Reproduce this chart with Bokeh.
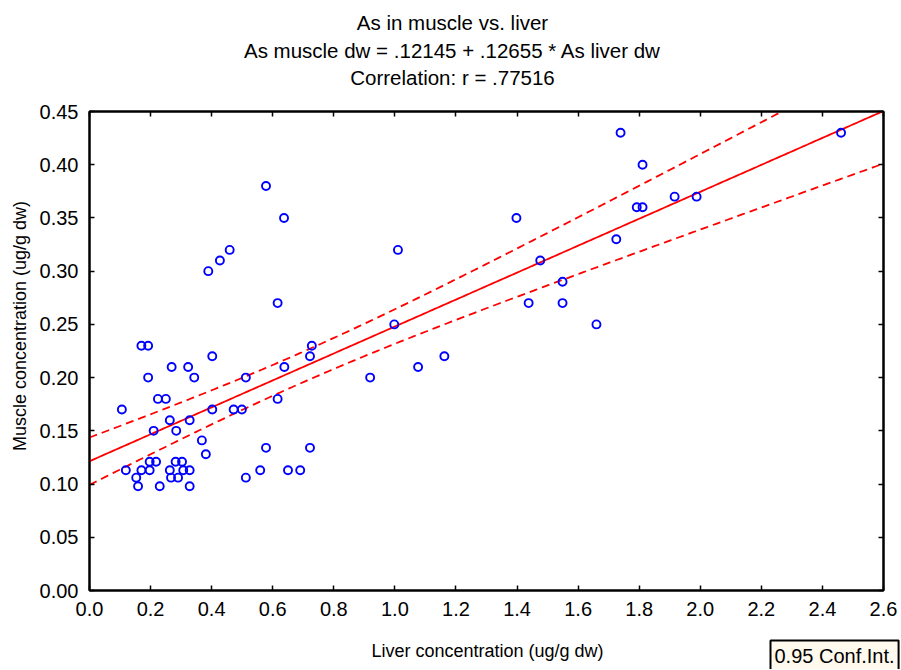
import numpy as np
from bokeh.plotting import figure
from bokeh.layouts import column
from bokeh.models import Range1d, FixedTicker, LinearAxis, Label, Plot
from bokeh.embed import file_html
from bokeh.resources import INLINE

# ---- data ----
liver = [0.170, 0.192, 0.402, 0.269, 0.323, 0.638, 0.728, 0.722, 0.192, 0.343,
         0.512, 0.224, 0.250, 0.616, 0.106, 0.402, 0.472, 0.499, 0.263, 0.328,
         0.210, 0.284, 0.368, 0.381, 0.578, 0.722, 0.197, 0.218, 0.282, 0.303,
         0.119, 0.170, 0.197, 0.263, 0.307, 0.328, 0.559, 0.650, 0.690, 0.153,
         0.267, 0.290, 0.512, 0.159, 0.230, 0.328,
         0.578, 0.637, 0.459, 0.427, 0.389, 0.616,
         1.010, 0.998, 0.919, 1.076, 1.162,
         1.739, 2.461, 1.811, 1.398, 1.792, 1.811, 1.916, 1.988, 1.725, 1.476,
         1.549, 1.438, 1.549, 1.660]
muscle = [0.23, 0.23, 0.22, 0.21, 0.21, 0.21, 0.23, 0.22, 0.20, 0.20,
          0.20, 0.18, 0.18, 0.18, 0.17, 0.17, 0.17, 0.17, 0.16, 0.16,
          0.15, 0.15, 0.141, 0.128, 0.134, 0.134, 0.121, 0.121, 0.121, 0.121,
          0.113, 0.113, 0.113, 0.113, 0.113, 0.113, 0.113, 0.113, 0.113, 0.106,
          0.106, 0.106, 0.106, 0.098, 0.098, 0.098,
          0.38, 0.35, 0.32, 0.31, 0.30, 0.27,
          0.32, 0.25, 0.20, 0.21, 0.22,
          0.43, 0.43, 0.40, 0.35, 0.36, 0.36, 0.37, 0.37, 0.33, 0.31,
          0.29, 0.27, 0.27, 0.25]

title_lines = ["As in muscle vs. liver",
               "As muscle dw = .12145 + .12655 * As liver dw",
               "Correlation: r = .77516"]
x_label = "Liver concentration (ug/g dw)"
y_label = "Muscle concentration (ug/g dw)"
legend_label = "0.95 Conf.Int."

intercept = 0.12145
slope = 0.12655
t_crit = 1.995  # two-sided 95 %, df = n - 2

x_ticks = [0.0, 0.2, 0.4, 0.6, 0.8, 1.0, 1.2, 1.4, 1.6, 1.8, 2.0, 2.2, 2.4, 2.6]
x_tick_labels = ["0.0", "0.2", "0.4", "0.6", "0.8", "1.0", "1.2", "1.4", "1.6",
                 "1.8", "2.0", "2.2", "2.4", "2.6"]
y_ticks = [0.0, 0.05, 0.1, 0.15, 0.2, 0.25, 0.3, 0.35, 0.4, 0.45]
y_tick_labels = ["0.00", "0.05", "0.10", "0.15", "0.20", "0.25", "0.30", "0.35",
                 "0.40", "0.45"]

# ---- regression line and 95% confidence band ----
xa = np.array(liver)
ya = np.array(muscle)
n = len(xa)
resid = ya - (intercept + slope * xa)
s = np.sqrt(np.sum(resid ** 2) / (n - 2))
xbar = xa.mean()
sxx = np.sum((xa - xbar) ** 2)
xg = np.linspace(x_ticks[0], x_ticks[-1], 300)
yhat = intercept + slope * xg
half = t_crit * s * np.sqrt(1.0 / n + (xg - xbar) ** 2 / sxx)

FONT = "Liberation Sans"
W = 900
H_TOP = 95
H_MAIN = 542
H_BOT = 32

HAS_FRAME_ALIGN = "frame_align" in Plot.properties()


def strip(h):
    f = figure(frame_width=W, frame_height=h,
               x_range=Range1d(0, W), y_range=Range1d(0, h),
               x_axis_type=None, y_axis_type=None, min_border=0,
               output_backend="svg", toolbar_location=None)
    f.outline_line_color = None
    f.background_fill_color = "white"
    f.border_fill_color = "white"
    if HAS_FRAME_ALIGN:
        f.frame_align = False
    return f


# ---------- title strip (data units = window pixels) ----------
top = strip(H_TOP)
title_y_px = [22, 50, 77]
for txt, yy in zip(title_lines, title_y_px):
    top.add_layout(Label(x=452, y=H_TOP - yy, text=txt, text_align="center",
                         text_baseline="middle", text_font=FONT,
                         text_font_size="20.5px", text_color="black"))

# ---------- main plot ----------
p = figure(width=W, height=H_MAIN,
           x_range=Range1d(x_ticks[0], x_ticks[-1]),
           y_range=Range1d(y_ticks[0], y_ticks[-1]),
           output_backend="svg", toolbar_location=None,
           min_border_left=89, min_border_right=17,
           min_border_top=16, min_border_bottom=47)
if HAS_FRAME_ALIGN:
    p.frame_align = False
p.grid.visible = False
p.background_fill_color = "white"
p.border_fill_color = "white"
p.outline_line_color = "black"
p.outline_line_width = 2


def style_axis(ax, ticks, labels, show):
    ax.ticker = FixedTicker(ticks=ticks)
    ax.major_tick_in = 5
    ax.major_tick_out = 0
    ax.minor_tick_in = 0
    ax.minor_tick_out = 0
    ax.major_tick_line_width = 1.5
    ax.major_tick_line_color = "black"
    ax.axis_line_color = "black"
    ax.axis_line_width = 2
    if show:
        ax.major_label_overrides = dict(zip(ticks, labels))
        ax.major_label_text_font = FONT
        ax.major_label_text_font_size = "20px"
        ax.major_label_text_color = "black"
    else:
        ax.major_label_overrides = {t: "" for t in ticks}
        ax.major_label_text_font_size = "1px"
        ax.major_label_text_color = None
        ax.major_label_standoff = 0


style_axis(p.xaxis[0], x_ticks, x_tick_labels, True)
style_axis(p.yaxis[0], y_ticks, y_tick_labels, True)
p.xaxis[0].major_label_standoff = 11
p.yaxis[0].major_label_standoff = 11
p.yaxis[0].axis_label = "\u00a0" * 10 + y_label
p.yaxis[0].axis_label_text_font = FONT
p.yaxis[0].axis_label_text_font_size = "18px"
p.yaxis[0].axis_label_text_font_style = "normal"
p.yaxis[0].axis_label_text_color = "black"
p.yaxis[0].axis_label_standoff = 7

top_axis = LinearAxis()
style_axis(top_axis, x_ticks, x_tick_labels, False)
p.add_layout(top_axis, "above")
right_axis = LinearAxis()
style_axis(right_axis, y_ticks, y_tick_labels, False)
p.add_layout(right_axis, "right")

# confidence band and regression line
p.line(xg, yhat + half, line_color="#FF0000", line_width=1.8, line_dash="8 5")
p.line(xg, yhat - half, line_color="#FF0000", line_width=1.8, line_dash="8 5")
p.line(xg, yhat, line_color="#FF0000", line_width=1.8)

# data points
p.scatter(liver, muscle, marker="circle", size=8, fill_color=None,
          line_color="#0000FF", line_width=1.9)

# ---------- bottom strip: x label + legend (data units = window pixels) ----------
bot = strip(H_BOT)
bot_top_px = H_TOP + H_MAIN
bot.add_layout(Label(x=487, y=bot_top_px + H_BOT - 650, text=x_label,
                     text_align="center", text_baseline="middle", text_font=FONT,
                     text_font_size="18px", text_color="black"))
bot.add_layout(Label(x=770, y=bot_top_px + H_BOT - 655, text=legend_label,
                     text_align="left", text_baseline="middle", text_font=FONT,
                     text_font_size="20px", text_color="black",
                     background_fill_color="#FFF9EE", border_line_color="black",
                     border_line_width=2, padding=4))

layout = column(top, p, bot, spacing=0)
open("out.html", "w").write(file_html(layout, INLINE))
